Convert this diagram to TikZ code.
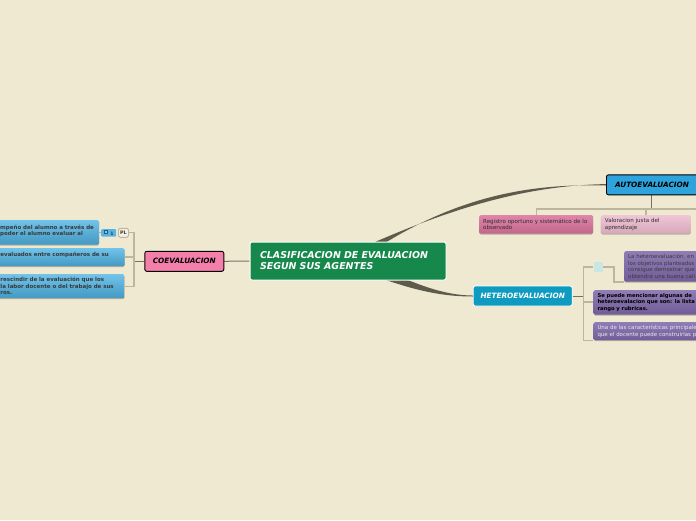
\documentclass[tikz,border=0pt]{standalone}
\usepackage{fontspec}
\setmainfont{DejaVu Sans}
\usetikzlibrary{shadows}
\definecolor{mapPaper}{HTML}{F0E9D2}
\definecolor{mapTrunk}{HTML}{5E5A4C}
\definecolor{mapStem}{HTML}{77725F}
\definecolor{mapTwig}{HTML}{BDB59E}
\definecolor{mapGreen}{HTML}{16884B}
\definecolor{mapPink}{HTML}{F57FAB}
\definecolor{mapBlue}{HTML}{2EA3DC}
\definecolor{mapTeal}{HTML}{0F9BBF}
\definecolor{mapInk}{HTML}{3A3A3A}
\definecolor{mapStub}{HTML}{C8E6E2}
\definecolor{mapRoseDeep}{HTML}{D9709B}
\definecolor{mapRoseSoft}{HTML}{EDBBCD}
\definecolor{mapPurple}{HTML}{7D66A8}
\definecolor{mapLeafBlue}{HTML}{4EB4E4}
\pgfdeclarelayer{paper}
\pgfdeclarelayer{links}
\pgfsetlayers{paper,links,main}
\newcommand{\leaffont}[1]{\fontsize{#1}{6.6}\selectfont}
\tikzset{
  trunk/.style={fill=mapTrunk},
  stem/.style={draw=mapStem, line width=1pt},
  twig/.style={draw=mapTwig, line width=1.1pt},
  root box/.style={draw=white, fill=mapGreen, line width=1pt, rounded corners=2pt,
    text=white, align=left, font=\fontsize{9.45}{11}\selectfont\bfseries\itshape,
    minimum width=196pt, minimum height=38pt, text width=176pt, inner xsep=10pt},
  agent box/.style={rounded corners=2pt, line width=0.9pt, minimum height=20pt,
    inner sep=0pt, font=\fontsize{7.3}{8}\selectfont\bfseries\itshape},
  leaf box/.style={rounded corners=1.5pt, align=left, inner xsep=4pt, inner ysep=0pt,
    drop shadow={shadow xshift=0pt, shadow yshift=-0.8pt, opacity=0.25, fill=black}},
  blue leaf/.style={leaf box, top color=#1!80!white, bottom color=#1!85!black,
    text=mapInk, font=\leaffont{5.5}\bfseries},
  pink leaf/.style={leaf box, top color=#1!85!white, bottom color=#1!90!black,
    text=mapInk!80!black, font=\leaffont{5.55}},
  purple leaf/.style={leaf box, top color=#1!85!white, bottom color=#1!90!black,
    font=\leaffont{5.45}},
  note tag/.style={fill=mapBlue!80!white, rounded corners=1pt, minimum width=15pt,
    minimum height=7.5pt, inner sep=0pt},
  note glyph/.style={draw=mapBlue!60!black, line width=0.5pt, fill=mapBlue!60!white,
    minimum size=3.5pt, inner sep=0pt},
  pl tag/.style={draw=mapTwig, fill=mapPaper!70!white, rounded corners=1.5pt, line width=0.9pt,
    minimum width=10pt, minimum height=9pt, inner sep=0pt,
    font=\fontsize{4.8}{5}\selectfont\bfseries, text=mapInk},
  stub box/.style={fill=mapStub, minimum width=9pt, minimum height=9.5pt, inner sep=0pt}
}
\begin{document}
\begin{tikzpicture}[x=1pt,y=-1pt]
  \useasboundingbox (0,0) rectangle (696,520);
  \begin{pgfonlayer}{paper}
    \fill[mapPaper] (0,0) rectangle (696,520);
  \end{pgfonlayer}
  \clip (0,0) rectangle (696,520);

  \node[root box] (root) at (348,261)
    {CLASIFICACION DE EVALUACION\\SEGUN SUS AGENTES};
  \node[agent box, draw=black, fill=mapPink, minimum width=79pt] (coev) at (184.3,261.3) {COEVALUACION};
  \node[agent box, draw=black, fill=mapBlue, minimum width=91pt, anchor=west] (auto) at (606,184.8)
    {AUTOEVALUACION};
  \node[agent box, draw=white, fill=mapTeal, text=white, minimum width=99pt] (hetero) at (522.7,296)
    {HETEROEVALUACION};

  \node[pink leaf=mapRoseDeep, anchor=north west, minimum width=114pt, minimum height=18.5pt,
    text width=106pt] (registro) at (479,215)
    {Registro oportuno y sistemático de lo\\observado};
  \node[pink leaf=mapRoseSoft, anchor=north west, minimum width=90pt, minimum height=18.5pt,
    text width=82pt] (valor) at (600.7,215)
    {Valoracion justa del\\aprendizaje};

  \node[blue leaf=mapLeafBlue, anchor=north west, minimum width=103pt, minimum height=24.5pt,
    text width=95pt] (desem) at (-4,220)
    {mpeño del alumno a través de\\poder el alumno evaluar al\\[-2.6pt]\mbox{}};
  \node[blue leaf=mapLeafBlue, anchor=north west, minimum width=128.5pt, minimum height=18pt,
    text width=120pt] (pares) at (-4,248)
    {evaluados entre compañeros de su\\\mbox{}};
  \node[blue leaf=mapLeafBlue, anchor=north west, minimum width=128.5pt, minimum height=24pt,
    text width=120pt] (labor) at (-4,274)
    {rescindir de la evaluación que los\\la labor docente o del trabajo de sus\\ros.};
  \node[note tag, anchor=west] (nota) at (101,232.8) {};
  \node[note glyph] (notaicon) at (105.5,231.8) {};
  \node[font=\fontsize{4.6}{5}\selectfont\bfseries, text=mapInk, inner sep=0pt] (notanum) at (112,233.6) {1};
  \node[pl tag, anchor=west] (pl) at (118,232.8) {PL};

  \node[stub box, anchor=north west] (stub) at (593.3,262) {};
  \node[purple leaf=mapPurple, text=mapInk, anchor=north west, minimum width=80pt, minimum height=30.5pt,
    text width=72pt] (hetA) at (624,251)
    {La heteroevaluación, en\\los objetivos planteados\\consigue demostrar que\\obtendrá una buena cali};
  \node[purple leaf=mapPurple, text=black, anchor=north west, minimum width=110pt, minimum height=24.5pt,
    text width=102pt, font=\leaffont{5.25}\bfseries] (hetB) at (593.3,290)
    {Se puede mencionar algunas de\\heteroevalacion que son: la lista\\rango y rubricas.};
  \node[purple leaf=mapPurple, text=white!85!mapPurple, anchor=north west, minimum width=110pt, minimum height=18pt,
    text width=102pt] (hetC) at (593.3,322)
    {Una de las características principale\\que el docente puede construirlas p};

  \coordinate (autoend) at (696,209);
  \coordinate (autojoin) at (651,209);
  \coordinate (coevjoin) at (134,261.3);
  \coordinate (hetjoin) at (583.3,296);

  \begin{pgfonlayer}{links}
    \fill[trunk] ([yshift=7pt]root.center) .. controls (440,212) and (520,185.5) .. ([yshift=0.7pt]auto.west)
      -- ([yshift=-0.7pt]auto.west) .. controls (520,183) and (440,200) .. ([yshift=-7pt]root.center) -- cycle;
    \fill[trunk] ([yshift=-5pt]root.center) .. controls (395,284) and (430,296.6) .. ([yshift=-0.5pt]hetero.west)
      -- ([yshift=0.5pt]hetero.west) .. controls (430,295.2) and (395,272) .. ([yshift=5pt]root.center) -- cycle;
    \draw[stem] (root.west) -- (coev.east);
    \draw[stem] (auto.south -| autojoin) -- (autojoin);
    \draw[twig] (registro.north) |- (autoend);
    \draw[twig] (valor.north -| 646,0) -- (646,209);
    \draw[stem] (coev.west) -- (coevjoin);
    \draw[twig] (pl.east) -| (coevjoin);
    \draw[twig] (labor.east) -| (coevjoin);
    \draw[twig] (coevjoin |- 0,257) -- (124.5,257);
    \draw[twig] (desem.east |- nota.west) -- (nota.west);
    \draw[stem] (hetero.east) -- (hetjoin);
    \draw[twig] (hetjoin) |- (stub.west);
    \draw[twig] (hetjoin) |- (hetC.west |- 0,340.5);
    \draw[twig] (hetjoin |- 0,302) -- (hetB.west |- 0,302);
    \draw[twig] (stub.east) -| (614,282) -- (hetA.west |- 0,282);
  \end{pgfonlayer}
\end{tikzpicture}
\end{document}
